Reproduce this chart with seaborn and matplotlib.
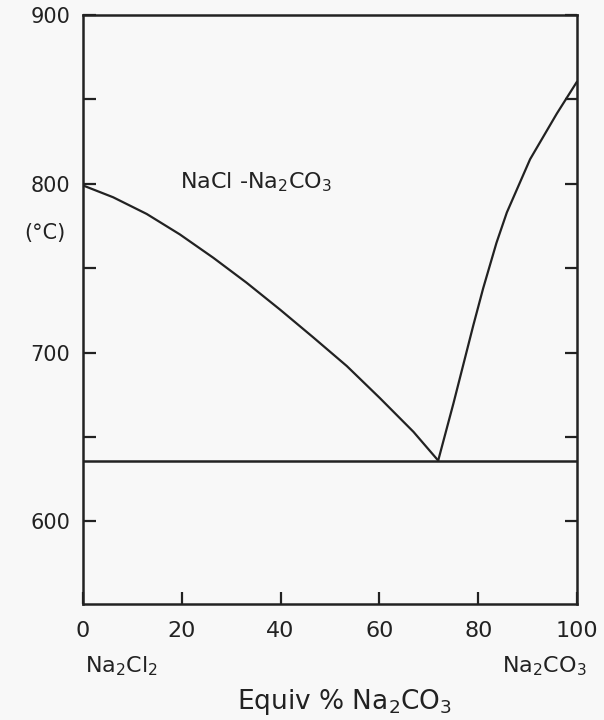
import matplotlib
matplotlib.use("Agg")
import matplotlib.pyplot as plt
import seaborn as sns
import pandas as pd

sns.set_theme(style="white")
plt.rcParams["font.family"] = ["DejaVu Sans"]
plt.rcParams["mathtext.default"] = "regular"

# liquidus NaCl side (equiv % Na2CO3, deg C)
left_x = [0, 6.1, 12.9, 19.6, 26.4, 33.1, 39.9, 46.6, 53.4, 60.1, 66.9, 71.9]
left_t = [799, 792, 782.1, 770, 756.1, 741.4, 725.4, 709, 692, 673, 653, 636]

# liquidus Na2CO3 side
right_x = [71.9, 75.0, 77.0, 79.0, 81.0, 83.7, 85.8, 90.5, 95.9, 100]
right_t = [636, 670, 693, 716, 738, 765, 783, 814.5, 841.5, 860.5]

eutectic_t = 635.5

x_ticks = [0, 20, 40, 60, 80, 100]
x_labels = ["0", "20", "40", "60", "80", "100"]
y_ticks = [600, 650, 700, 750, 800, 850, 900]
y_labels = ["600", "", "700", "", "800", "", "900"]

ink = "#222222"
bg = "#f8f8f8"

df_left = pd.DataFrame({"x": left_x, "t": left_t})
df_right = pd.DataFrame({"x": right_x, "t": right_t})

fig = plt.figure(figsize=(6.04, 7.2), dpi=100, facecolor=bg)
ax = fig.add_axes([0.1374, 0.1611, 0.8179, 0.8181])
ax.set_facecolor(bg)

sns.lineplot(data=df_left, x="x", y="t", ax=ax, color=ink, lw=1.6, sort=False)
sns.lineplot(data=df_right, x="x", y="t", ax=ax, color=ink, lw=1.6, sort=False)
ax.axhline(eutectic_t, color=ink, lw=1.8)

ax.set_xlim(0, 100)
ax.set_ylim(551, 900)

ax.set_xticks(x_ticks)
ax.set_xticklabels(x_labels)
ax.set_yticks(y_ticks)
ax.set_yticklabels(y_labels)

for sp in ax.spines.values():
    sp.set_color(ink)
    sp.set_linewidth(1.8)

ax.tick_params(axis="both", direction="in", length=9, width=1.6, color=ink,
               labelcolor=ink, labelsize=15)
ax.tick_params(axis="y", left=True, right=True, pad=9)
ax.tick_params(axis="x", bottom=True, top=False, pad=12, labelsize=16)

ax.set_xlabel("")
ax.set_ylabel("")

ax.text(19.6, 797, r"NaCl -Na$_2$CO$_3$", fontsize=16, color=ink,
        ha="left", va="baseline")

fig.text(0.0745, 0.676, "(°C)", fontsize=15, color=ink, ha="center", va="center")
fig.text(0.141, 0.0667, r"Na$_2$Cl$_2$", fontsize=16, color=ink,
         ha="left", va="baseline")
fig.text(0.972, 0.0667, r"Na$_2$CO$_3$", fontsize=16, color=ink,
         ha="right", va="baseline")
fig.text(0.571, 0.0153, r"Equiv % Na$_2$CO$_3$", fontsize=19, color=ink,
         ha="center", va="baseline")

fig.savefig("out.png", dpi=100, facecolor=bg)
